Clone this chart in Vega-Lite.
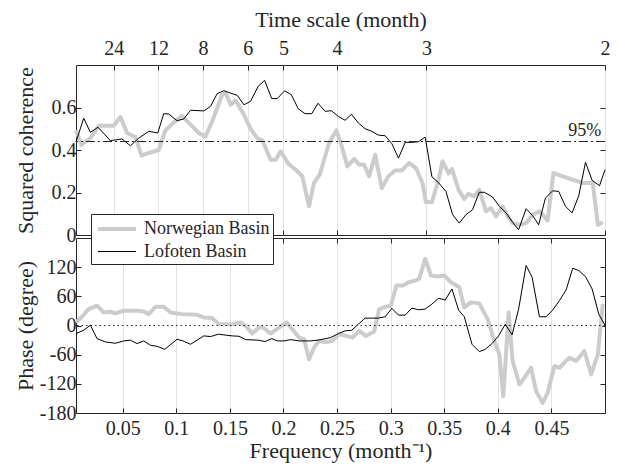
{
  "$schema": "https://vega.github.io/schema/vega-lite/v6.json",
  "background": "white",
  "padding": {"left": 13, "top": 7, "right": 5, "bottom": 5},
  "spacing": 3,
  "bounds": "flush",
  "datasets": {
    "cohN": [
      {"f":0.0064,"v":0.493},{"f":0.0114,"v":0.425},{"f":0.0198,"v":0.456},{"f":0.0276,"v":0.514},{"f":0.0416,"v":0.514},{"f":0.0479,"v":0.555},{"f":0.054,"v":0.48},{"f":0.0619,"v":0.461},{"f":0.0675,"v":0.373},{"f":0.0743,"v":0.386},{"f":0.0836,"v":0.4},{"f":0.0899,"v":0.493},{"f":0.0977,"v":0.53},{"f":0.1054,"v":0.561},{"f":0.1133,"v":0.519},{"f":0.121,"v":0.48},{"f":0.1273,"v":0.464},{"f":0.1335,"v":0.535},{"f":0.1428,"v":0.66},{"f":0.146,"v":0.668},{"f":0.1507,"v":0.613},{"f":0.1553,"v":0.634},{"f":0.1631,"v":0.566},{"f":0.1693,"v":0.499},{"f":0.1755,"v":0.456},{"f":0.1802,"v":0.446},{"f":0.188,"v":0.354},{"f":0.1927,"v":0.354},{"f":0.1974,"v":0.394},{"f":0.2045,"v":0.336},{"f":0.2114,"v":0.307},{"f":0.2176,"v":0.276},{"f":0.2238,"v":0.135},{"f":0.2285,"v":0.245},{"f":0.2338,"v":0.284},{"f":0.2425,"v":0.433},{"f":0.2493,"v":0.493},{"f":0.2535,"v":0.433},{"f":0.2596,"v":0.323},{"f":0.2659,"v":0.358},{"f":0.2706,"v":0.331},{"f":0.2752,"v":0.331},{"f":0.2799,"v":0.276},{"f":0.2855,"v":0.378},{"f":0.2918,"v":0.221},{"f":0.2979,"v":0.276},{"f":0.3042,"v":0.304},{"f":0.3105,"v":0.304},{"f":0.3173,"v":0.339},{"f":0.3236,"v":0.315},{"f":0.3297,"v":0.245},{"f":0.3329,"v":0.155},{"f":0.3385,"v":0.155},{"f":0.3447,"v":0.26},{"f":0.3484,"v":0.347},{"f":0.354,"v":0.29},{"f":0.3572,"v":0.311},{"f":0.3634,"v":0.213},{"f":0.3687,"v":0.169},{"f":0.3727,"v":0.194},{"f":0.378,"v":0.182},{"f":0.3827,"v":0.213},{"f":0.389,"v":0.111},{"f":0.3936,"v":0.127},{"f":0.3983,"v":0.088},{"f":0.4045,"v":0.135},{"f":0.4092,"v":0.088},{"f":0.4138,"v":0.056},{"f":0.4201,"v":0.048},{"f":0.4264,"v":0.056},{"f":0.4325,"v":0.096},{"f":0.4388,"v":0.111},{"f":0.4465,"v":0.069},{"f":0.4519,"v":0.292},{"f":0.4606,"v":0.276},{"f":0.4699,"v":0.26},{"f":0.4793,"v":0.245},{"f":0.4886,"v":0.245},{"f":0.4933,"v":0.048},{"f":0.4979,"v":0.06}
    ],
    "cohL": [
      {"f":0.0064,"v":0.438},{"f":0.0136,"v":0.55},{"f":0.0198,"v":0.483},{"f":0.0269,"v":0.507},{"f":0.0385,"v":0.444},{"f":0.0493,"v":0.452},{"f":0.0572,"v":0.42},{"f":0.065,"v":0.456},{"f":0.0743,"v":0.488},{"f":0.0827,"v":0.48},{"f":0.0883,"v":0.571},{"f":0.093,"v":0.569},{"f":0.1007,"v":0.538},{"f":0.107,"v":0.546},{"f":0.1133,"v":0.587},{"f":0.1257,"v":0.584},{"f":0.132,"v":0.606},{"f":0.1381,"v":0.665},{"f":0.1444,"v":0.679},{"f":0.1568,"v":0.657},{"f":0.1631,"v":0.613},{"f":0.1693,"v":0.629},{"f":0.1764,"v":0.7},{"f":0.1824,"v":0.728},{"f":0.189,"v":0.642},{"f":0.1942,"v":0.642},{"f":0.2011,"v":0.679},{"f":0.2073,"v":0.66},{"f":0.2138,"v":0.594},{"f":0.2201,"v":0.571},{"f":0.2264,"v":0.571},{"f":0.2322,"v":0.62},{"f":0.2388,"v":0.582},{"f":0.2447,"v":0.585},{"f":0.2512,"v":0.558},{"f":0.2575,"v":0.54},{"f":0.2634,"v":0.568},{"f":0.2699,"v":0.527},{"f":0.2762,"v":0.5},{"f":0.2824,"v":0.488},{"f":0.2886,"v":0.47},{"f":0.2949,"v":0.467},{"f":0.3011,"v":0.43},{"f":0.3073,"v":0.362},{"f":0.3136,"v":0.436},{"f":0.3198,"v":0.436},{"f":0.326,"v":0.439},{"f":0.3322,"v":0.461},{"f":0.3385,"v":0.274},{"f":0.3447,"v":0.246},{"f":0.3516,"v":0.205},{"f":0.3578,"v":0.096},{"f":0.364,"v":0.056},{"f":0.3703,"v":0.096},{"f":0.3764,"v":0.119},{"f":0.3827,"v":0.201},{"f":0.3874,"v":0.201},{"f":0.3951,"v":0.179},{"f":0.4014,"v":0.135},{"f":0.4077,"v":0.104},{"f":0.4138,"v":0.06},{"f":0.4194,"v":0.025},{"f":0.4264,"v":0.124},{"f":0.4325,"v":0.091},{"f":0.4381,"v":0.048},{"f":0.4444,"v":0.174},{"f":0.4512,"v":0.208},{"f":0.4568,"v":0.205},{"f":0.4631,"v":0.135},{"f":0.4693,"v":0.104},{"f":0.4755,"v":0.185},{"f":0.4818,"v":0.342},{"f":0.488,"v":0.257},{"f":0.4949,"v":0.232},{"f":0.5,"v":0.307}
    ],
    "phN": [
      {"f":0.0064,"v":6.2},{"f":0.012,"v":18},{"f":0.0182,"v":33.8},{"f":0.026,"v":40.7},{"f":0.0322,"v":26.9},{"f":0.0385,"v":28.3},{"f":0.0432,"v":24.8},{"f":0.0509,"v":30.3},{"f":0.0634,"v":30.3},{"f":0.0696,"v":29},{"f":0.0743,"v":23.4},{"f":0.0806,"v":38.6},{"f":0.0883,"v":38.6},{"f":0.0946,"v":26.9},{"f":0.1054,"v":23.4},{"f":0.1194,"v":22},{"f":0.1257,"v":16.6},{"f":0.1335,"v":15.2},{"f":0.1397,"v":2.8},{"f":0.1521,"v":2.8},{"f":0.16,"v":6.2},{"f":0.1662,"v":-4.1},{"f":0.1708,"v":-16.6},{"f":0.1764,"v":-5.5},{"f":0.1802,"v":-2.8},{"f":0.188,"v":-16.6},{"f":0.1958,"v":-4.1},{"f":0.203,"v":6.2},{"f":0.2082,"v":-7.6},{"f":0.2145,"v":-24.8},{"f":0.2192,"v":-28.3},{"f":0.2238,"v":-69.7},{"f":0.2285,"v":-45.5},{"f":0.2332,"v":-31.7},{"f":0.2394,"v":-33.8},{"f":0.2456,"v":-31.7},{"f":0.2519,"v":-17.9},{"f":0.2587,"v":-21.4},{"f":0.2643,"v":-24.8},{"f":0.2706,"v":-11},{"f":0.2768,"v":-21.4},{"f":0.2846,"v":-12.4},{"f":0.2893,"v":33.8},{"f":0.2955,"v":38.6},{"f":0.3002,"v":40.7},{"f":0.3054,"v":82.1},{"f":0.3117,"v":82.1},{"f":0.3166,"v":89},{"f":0.3229,"v":92.4},{"f":0.3266,"v":95.9},{"f":0.3322,"v":137},{"f":0.3376,"v":102.8},{"f":0.3437,"v":100.7},{"f":0.35,"v":102.8},{"f":0.3563,"v":89},{"f":0.364,"v":78.6},{"f":0.3687,"v":37.2},{"f":0.375,"v":47.6},{"f":0.3827,"v":45.5},{"f":0.3905,"v":13},{"f":0.3967,"v":-31.7},{"f":0.4014,"v":-59.3},{"f":0.4051,"v":-145.5},{"f":0.4101,"v":26.9},{"f":0.4138,"v":-73},{"f":0.4201,"v":-121.4},{"f":0.4248,"v":-107.6},{"f":0.431,"v":-86.9},{"f":0.4357,"v":-135.1},{"f":0.4419,"v":-159.3},{"f":0.4465,"v":-138.6},{"f":0.4528,"v":-83.4},{"f":0.4575,"v":-86.9},{"f":0.4668,"v":-66.2},{"f":0.4731,"v":-73},{"f":0.4808,"v":-52.4},{"f":0.4871,"v":-100.7},{"f":0.4933,"v":-59.3},{"f":0.4979,"v":44.1}
    ],
    "phL": [
      {"f":0.0064,"v":-16.6},{"f":0.0136,"v":-9.7},{"f":0.0198,"v":0.7},{"f":0.026,"v":-26.9},{"f":0.0338,"v":-33.8},{"f":0.0432,"v":-36.6},{"f":0.0509,"v":-31.7},{"f":0.0572,"v":-30.3},{"f":0.0634,"v":-37.2},{"f":0.0696,"v":-31.7},{"f":0.0759,"v":-40.7},{"f":0.0821,"v":-42.8},{"f":0.0893,"v":-49},{"f":0.1007,"v":-28.3},{"f":0.1061,"v":-31.7},{"f":0.1133,"v":-38.6},{"f":0.1257,"v":-21.4},{"f":0.132,"v":-22.8},{"f":0.1391,"v":-17.9},{"f":0.1521,"v":-21.4},{"f":0.1584,"v":-22.1},{"f":0.1647,"v":-29},{"f":0.1771,"v":-30.3},{"f":0.1827,"v":-33.1},{"f":0.189,"v":-26.9},{"f":0.1942,"v":-31.7},{"f":0.2005,"v":-31.7},{"f":0.2067,"v":-29},{"f":0.2145,"v":-31.7},{"f":0.2254,"v":-31.7},{"f":0.2332,"v":-29.7},{"f":0.2441,"v":-24.8},{"f":0.2512,"v":-16.6},{"f":0.2575,"v":-11},{"f":0.2637,"v":-9.7},{"f":0.2699,"v":2.8},{"f":0.2762,"v":15.2},{"f":0.2824,"v":15.2},{"f":0.2886,"v":15.2},{"f":0.2949,"v":18},{"f":0.3011,"v":35.2},{"f":0.3073,"v":21.4},{"f":0.3136,"v":21.4},{"f":0.3198,"v":35.9},{"f":0.326,"v":32.4},{"f":0.3322,"v":33.8},{"f":0.3385,"v":44.1},{"f":0.3447,"v":55.9},{"f":0.3509,"v":52.4},{"f":0.3572,"v":75.2},{"f":0.3634,"v":31.7},{"f":0.3687,"v":18},{"f":0.3759,"v":-38.6},{"f":0.3827,"v":-53.8},{"f":0.3883,"v":-49},{"f":0.3946,"v":-37.2},{"f":0.4007,"v":-21.4},{"f":0.407,"v":2.8},{"f":0.4133,"v":-19.3},{"f":0.4194,"v":33.8},{"f":0.4264,"v":123.5},{"f":0.432,"v":99.3},{"f":0.4388,"v":18},{"f":0.445,"v":18},{"f":0.4512,"v":31.7},{"f":0.4575,"v":51.1},{"f":0.4637,"v":73.1},{"f":0.4699,"v":117.9},{"f":0.4755,"v":113.1},{"f":0.4818,"v":100.7},{"f":0.488,"v":75.1},{"f":0.4942,"v":23.4},{"f":0.5,"v":0.7}
    ]
  },
  "resolve": {
    "scale": {"x": "independent", "y": "independent"},
    "legend": {"color": "independent", "strokeWidth": "independent"}
  },
  "vconcat": [
    {
      "width": 529,
      "height": 170,
      "resolve": {"axis": {"x": "independent", "y": "independent"}},
      "layer": [
        {
          "data": {"name": "cohN"},
          "transform": [{"calculate": "'Norwegian Basin'", "as": "s"}],
          "mark": {"type": "line", "strokeJoin": "round"},
          "encoding": {
            "x": {"field": "f", "type": "quantitative", "scale": {"domain": [0.0064, 0.5], "nice": false, "zero": false},
                  "axis": {"orient": "top", "values": [0.041667, 0.083333, 0.125, 0.166667, 0.2, 0.25, 0.333333, 0.5], "labelExpr": "round(1/datum.value)", "title": "Time scale (month)", "grid": false, "labelFlush": false, "labelOverlap": false, "labelPadding": 12, "titlePadding": 7}},
            "y": {"field": "v", "type": "quantitative", "scale": {"domain": [0, 0.8], "nice": false},
                  "axis": {"orient": "right", "values": [0, 0.2, 0.4, 0.6], "labels": false, "title": null, "grid": false}},
            "color": {"field": "s", "type": "nominal", "scale": {"domain": ["Norwegian Basin", "Lofoten Basin"], "range": ["#cccccc", "#000000"]}, "legend": null},
            "strokeWidth": {"field": "s", "type": "ordinal", "scale": {"domain": ["Norwegian Basin", "Lofoten Basin"], "range": [4, 1]}, "legend": null}
          }
        },
        {
          "data": {"name": "cohL"},
          "transform": [{"calculate": "'Lofoten Basin'", "as": "s"}],
          "mark": {"type": "line", "strokeJoin": "round"},
          "encoding": {
            "x": {"field": "f", "type": "quantitative",
                  "axis": {"orient": "bottom", "values": [0.041667, 0.083333, 0.125, 0.166667, 0.2, 0.25, 0.333333, 0.5], "labels": false, "title": null, "grid": true}},
            "y": {"field": "v", "type": "quantitative",
                  "axis": {"orient": "left", "values": [0, 0.2, 0.4, 0.6], "format": "~g", "title": "Squared coherence", "grid": false, "titlePadding": 14}},
            "color": {"field": "s", "type": "nominal", "legend": null},
            "strokeWidth": {"field": "s", "type": "ordinal", "legend": null}
          }
        },
        {
          "data": {"values": [{"level": 0.44}]},
          "mark": {"type": "rule", "strokeDash": [9, 3, 2, 3], "color": "#262626", "strokeWidth": 1},
          "encoding": {"y": {"field": "level", "type": "quantitative", "axis": null}}
        },
        {
          "data": {"values": [{"f": 0.481, "v": 0.49, "t": "95%"}]},
          "mark": {"type": "text", "fontSize": 18, "font": "Liberation Serif", "color": "#262626"},
          "encoding": {
            "x": {"field": "f", "type": "quantitative", "axis": null},
            "y": {"field": "v", "type": "quantitative", "axis": null},
            "text": {"field": "t"}
          }
        }
      ]
    },
    {
      "width": 529,
      "height": 175,
      "resolve": {"axis": {"x": "independent", "y": "independent"}},
      "layer": [
        {
          "data": {"name": "phN"},
          "transform": [{"calculate": "'Norwegian Basin'", "as": "s"}],
          "mark": {"type": "line", "strokeJoin": "round"},
          "encoding": {
            "x": {"field": "f", "type": "quantitative", "scale": {"domain": [0.0064, 0.5], "nice": false, "zero": false},
                  "axis": {"orient": "top", "values": [0.05, 0.1, 0.15, 0.2, 0.25, 0.3, 0.35, 0.4, 0.45], "labels": false, "title": null, "grid": false}},
            "y": {"field": "v", "type": "quantitative", "scale": {"domain": [-180, 180], "nice": false},
                  "axis": {"orient": "right", "values": [-180, -120, -60, 0, 60, 120], "labels": false, "title": null, "grid": false}},
            "color": {"field": "s", "type": "nominal", "scale": {"domain": ["Norwegian Basin", "Lofoten Basin"], "range": ["#cccccc", "#000000"]}, "legend": {"title": null}},
            "strokeWidth": {"field": "s", "type": "ordinal", "scale": {"domain": ["Norwegian Basin", "Lofoten Basin"], "range": [4, 1]}, "legend": {"title": null}}
          }
        },
        {
          "data": {"name": "phL"},
          "transform": [{"calculate": "'Lofoten Basin'", "as": "s"}],
          "mark": {"type": "line", "strokeJoin": "round"},
          "encoding": {
            "x": {"field": "f", "type": "quantitative",
                  "axis": {"orient": "bottom", "values": [0.05, 0.1, 0.15, 0.2, 0.25, 0.3, 0.35, 0.4, 0.45], "format": "~g", "title": "Frequency (month⁻¹)", "grid": true, "labelFlush": false, "labelPadding": 10, "titlePadding": 2}},
            "y": {"field": "v", "type": "quantitative",
                  "axis": {"orient": "left", "values": [-180, -120, -60, 0, 60, 120], "labelExpr": "'' + datum.value", "title": "Phase (degree)", "grid": false, "titlePadding": 2}},
            "color": {"field": "s", "type": "nominal", "legend": {"title": null}},
            "strokeWidth": {"field": "s", "type": "ordinal", "legend": {"title": null}}
          }
        },
        {
          "data": {"values": [{"zero": 0}]},
          "mark": {"type": "rule", "strokeDash": [1.5, 3], "color": "#262626", "strokeWidth": 1},
          "encoding": {"y": {"field": "zero", "type": "quantitative", "axis": null}}
        }
      ]
    }
  ],
  "config": {
    "font": "Liberation Serif",
    "view": {"stroke": "#262626", "strokeWidth": 1},
    "axis": {
      "labelFont": "Liberation Serif", "titleFont": "Liberation Serif",
      "labelFontSize": 20, "titleFontSize": 22, "titleFontWeight": "normal",
      "labelColor": "#262626", "titleColor": "#262626", "tickColor": "#262626",
      "domain": false, "tickSize": -5, "labelPadding": 5, "titlePadding": 2,
      "gridColor": "#e3e3e3", "gridWidth": 1
    },
    "legend": {
      "orient": "none", "legendX": 15, "legendY": -24,
      "labelFont": "Liberation Serif", "labelFontSize": 18, "labelColor": "#262626",
      "symbolType": "M-1.9,0L1.9,0", "symbolSize": 400, "symbolOffset": 11,
      "fillColor": "white", "strokeColor": "#262626",
      "padding": 3, "rowPadding": 3, "labelOffset": 15
    }
  }
}
